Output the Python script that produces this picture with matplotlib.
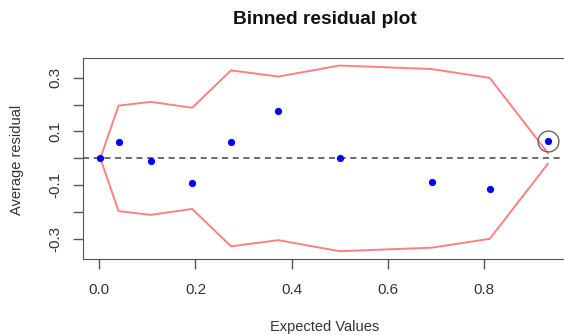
import matplotlib
matplotlib.use("Agg")
import matplotlib.pyplot as plt

plt.rcParams['font.family'] = ['Liberation Sans', 'DejaVu Sans']

# binned expected values and average residuals
expected = [0.002, 0.040, 0.107, 0.193, 0.274, 0.372, 0.500, 0.691, 0.812, 0.933]
avg_resid = [0.0, 0.059, -0.011, -0.093, 0.059, 0.175, 0.0, -0.089, -0.112, 0.065]
# +/- 2 SE band
band = [0.0, 0.196, 0.210, 0.188, 0.327, 0.304, 0.345, 0.332, 0.299, 0.020]

xticks = [0.0, 0.2, 0.4, 0.6, 0.8]
yticks = [-0.3, -0.2, -0.1, 0.0, 0.1, 0.2, 0.3]
ylabels = ['-0.3', '', '-0.1', '', '0.1', '', '0.3']

fig = plt.figure(figsize=(5.64, 3.35), dpi=100)
ax = fig.add_axes([83/564, 1-259/335, (570-83)/564, (259-58)/335])

ax.plot(expected, band, color='#ff8080', lw=1.4)
ax.plot(expected, [-b for b in band], color='#ff8080', lw=1.4)
ax.axhline(0, color='#444444', lw=1.1, ls=(0, (4, 3)))
ax.plot(expected, avg_resid, 'o', color='blue', ms=4.2, mec='blue')
# highlight the point outside the band
ax.plot(expected[-1], avg_resid[-1], 'o', mfc='none', mec='#666666', ms=15, mew=1.0)

ax.set_xlim(-0.034, 0.979)
ax.set_ylim(-0.374, 0.373)
ax.set_xticks(xticks)
ax.set_xticklabels([f'{v:.1f}' for v in xticks])
ax.set_yticks(yticks)
ax.set_yticklabels(ylabels, rotation=90, va='center')
ax.tick_params(colors='#555555', labelcolor='#333333', length=7, width=1, labelsize=11)
ax.tick_params(axis='x', pad=10)
ax.tick_params(axis='y', pad=8)
for s in ax.spines.values():
    s.set_color('#555555')

fig.text(325/564, 1-20/335, 'Binned residual plot', ha='center', va='center',
         fontsize=13.8, fontweight='bold', color='#111111')
fig.text(325/564, 1-327/335, 'Expected Values', ha='center', va='center',
         fontsize=10.5, color='#333333')
fig.text(17/564, 1-160/335, 'Average residual', ha='center', va='center',
         fontsize=10.5, color='#333333', rotation=90)

fig.savefig('out.png', dpi=100)
